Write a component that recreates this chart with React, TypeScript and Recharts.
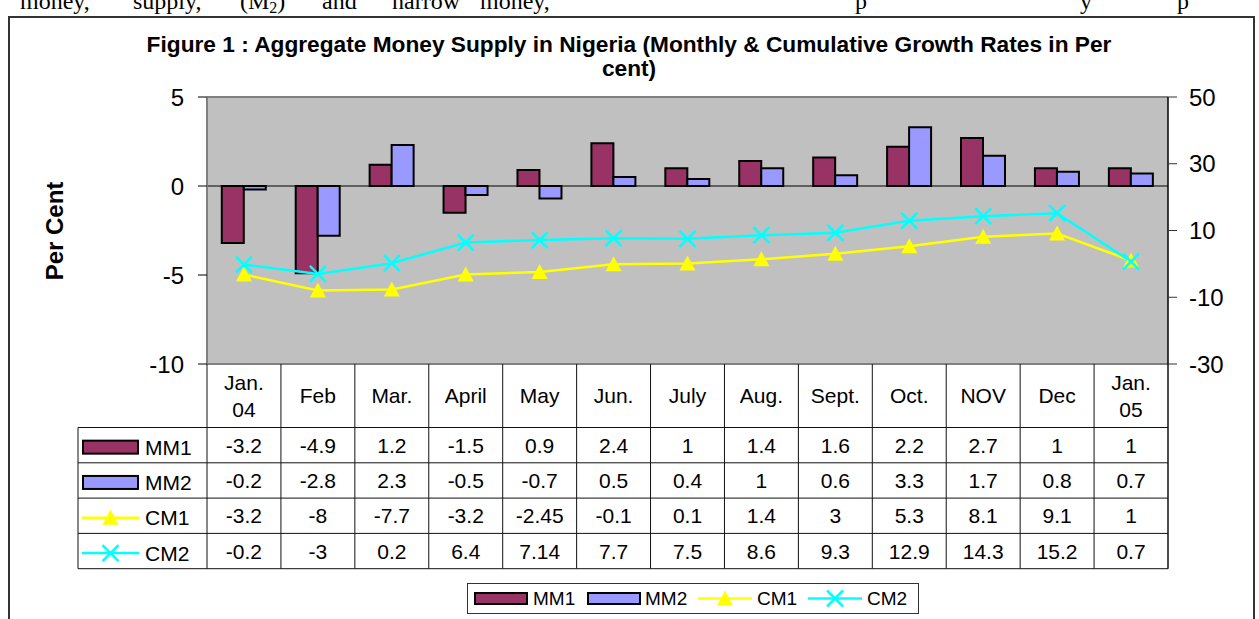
import React from 'react';
import { ComposedChart, Bar, Line, XAxis, YAxis, CartesianGrid, ReferenceLine } from 'recharts';

const categories = ['Jan. 04', 'Feb', 'Mar.', 'April', 'May', 'Jun.', 'July', 'Aug.', 'Sept.', 'Oct.', 'NOV', 'Dec', 'Jan. 05'];
const mm1 = [-3.2, -4.9, 1.2, -1.5, 0.9, 2.4, 1, 1.4, 1.6, 2.2, 2.7, 1, 1];
const mm2 = [-0.2, -2.8, 2.3, -0.5, -0.7, 0.5, 0.4, 1, 0.6, 3.3, 1.7, 0.8, 0.7];
const cm1 = [-3.2, -8, -7.7, -3.2, -2.45, -0.1, 0.1, 1.4, 3, 5.3, 8.1, 9.1, 1];
const cm2 = [-0.2, -3, 0.2, 6.4, 7.14, 7.7, 7.5, 8.6, 9.3, 12.9, 14.3, 15.2, 0.7];
const leftTicks = [-10, -5, 0, 5];
const rightTicks = [-30, -10, 10, 30, 50];
const seriesNames = ['MM1', 'MM2', 'CM1', 'CM2'];
const seriesValues = [mm1, mm2, cm1, cm2];
const titleLines = ['Figure 1 : Aggregate Money Supply in Nigeria (Monthly & Cumulative Growth Rates in Per', 'cent)'];
const yAxisLabel = 'Per Cent';

const COLORS = { MM1: '#993366', MM2: '#9999FF', CM1: '#FFFF00', CM2: '#00FFFF' };
const FONT = '"Liberation Sans", Arial, sans-serif';
const SERIF = '"Liberation Serif", "Times New Roman", serif';

const W = 1259;
const H = 619;
const PLOT_L = 207;
const PLOT_R = 1168;
const PLOT_T = 97;
const PLOT_B = 364;
const HEADER_H = 63.5;
const ROW_H = 35.3;
const TABLE_BOTTOM = PLOT_B + HEADER_H + ROW_H * 4;
const LINE_COLOR = '#111';

const data = categories.map((c, i) => ({ month: c, mm1: mm1[i], mm2: mm2[i], cm1: cm1[i], cm2: cm2[i] }));

const TriangleDot = (props: any) => {
  const { cx, cy } = props;
  if (cx == null || cy == null) return null;
  return <polygon points={`${cx},${cy - 8} ${cx - 8},${cy + 7} ${cx + 8},${cy + 7}`} fill={COLORS.CM1} stroke="none" />;
};

const CrossDot = (props: any) => {
  const { cx, cy } = props;
  if (cx == null || cy == null) return null;
  return (
    <g stroke={COLORS.CM2} strokeWidth={2.5}>
      <line x1={cx - 8} y1={cy - 8} x2={cx + 8} y2={cy + 8} />
      <line x1={cx - 8} y1={cy + 8} x2={cx + 8} y2={cy - 8} />
    </g>
  );
};

const TableTick = (props: any) => {
  const { x, y, index, payload } = props;
  const colW = (PLOT_R - PLOT_L) / categories.length;
  const left = x - colW / 2;
  const right = x + colW / 2;
  const top = y;
  const label: string = String(payload.value);
  const parts = label.split(' ');
  const headerCenter = top + HEADER_H / 2;
  const rows = seriesValues.map((vals, r) => {
    const rt = top + HEADER_H + r * ROW_H;
    return (
      <g key={r}>
        <line x1={left} x2={right} y1={rt + ROW_H} y2={rt + ROW_H} stroke={LINE_COLOR} strokeWidth={1} />
        <text x={x} y={rt + ROW_H / 2 + 7.5} textAnchor="middle" fontSize={21} fontFamily={FONT} fill="#000">
          {String(vals[index])}
        </text>
      </g>
    );
  });
  return (
    <g>
      <line x1={left} x2={left} y1={top} y2={top + HEADER_H + ROW_H * 4} stroke={LINE_COLOR} strokeWidth={1} />
      {index === categories.length - 1 && (
        <line x1={right} x2={right} y1={top} y2={top + HEADER_H + ROW_H * 4} stroke={LINE_COLOR} strokeWidth={1.5} />
      )}
      <line x1={left} x2={right} y1={top + HEADER_H} y2={top + HEADER_H} stroke={LINE_COLOR} strokeWidth={1} />
      {parts.length === 1 ? (
        <text x={x} y={headerCenter + 7.5} textAnchor="middle" fontSize={21} fontFamily={FONT} fill="#000">{label}</text>
      ) : (
        <g>
          <text x={x} y={headerCenter - 6} textAnchor="middle" fontSize={21} fontFamily={FONT} fill="#000">{parts[0]}</text>
          <text x={x} y={headerCenter + 21} textAnchor="middle" fontSize={21} fontFamily={FONT} fill="#000">{parts[1]}</text>
        </g>
      )}
      {rows}
    </g>
  );
};

const SeriesSymbol = ({ name, x, cy, w, h }: { name: string; x: number; cy: number; w: number; h: number }) => {
  if (name === 'MM1' || name === 'MM2') {
    return <rect x={x + 1} y={cy - h / 2} width={w - 2} height={h} fill={(COLORS as any)[name]} stroke="#000" strokeWidth={2} />;
  }
  const mx = x + w / 2;
  return (
    <g>
      <line x1={x} x2={x + w} y1={cy} y2={cy} stroke={(COLORS as any)[name]} strokeWidth={2.5} />
      {name === 'CM1' ? <TriangleDot cx={mx} cy={cy} /> : <CrossDot cx={mx} cy={cy} />}
    </g>
  );
};

const Overlay = () => {
  const tableTop = PLOT_B + HEADER_H;
  const legendItems = [
    { x: 474, tx: 533 },
    { x: 587, tx: 645 },
    { x: 698, tx: 757 },
    { x: 808, tx: 867 },
  ];
  return (
    <svg width={W} height={H} style={{ position: 'absolute', left: 0, top: 0 }}>
      {/* document text cut off at top */}
      <g fontFamily={SERIF} fontSize={24} fill="#000">
        <text x={20} y={9}>money,</text>
        <text x={133} y={9}>supply,</text>
        <text x={240} y={9}>(M<tspan fontSize={16} dy={4}>2</tspan><tspan dy={-4}>)</tspan></text>
        <text x={322} y={9}>and</text>
        <text x={392} y={9}>narrow</text>
        <text x={480} y={9}>money,</text>
        <text x={855} y={9}>p</text>
        <text x={1080} y={9}>y</text>
        <text x={1177} y={9}>p</text>
      </g>
      {/* chart border */}
      <path d={`M9 ${H} L9 17 L1254 17 L1254 ${H}`} fill="none" stroke="#333" strokeWidth={2} />
      {/* title */}
      <g fontFamily={FONT} fontSize={22.7} fontWeight="bold" fill="#000" textAnchor="middle">
        <text x={629} y={52}>{titleLines[0]}</text>
        <text x={629} y={76}>{titleLines[1]}</text>
      </g>
      <text transform="translate(63,231) rotate(-90)" textAnchor="middle" fontFamily={FONT} fontSize={24} fontWeight="bold" fill="#000">
        {yAxisLabel}
      </text>
      {/* table row labels */}
      <g>
        <line x1={78} x2={78} y1={tableTop} y2={TABLE_BOTTOM} stroke={LINE_COLOR} strokeWidth={1} />
        <line x1={78} x2={PLOT_L} y1={tableTop} y2={tableTop} stroke={LINE_COLOR} strokeWidth={1} />
        {seriesNames.map((n, r) => {
          const rt = tableTop + r * ROW_H;
          const cy = rt + ROW_H / 2 + 2;
          return (
            <g key={n}>
              <line x1={78} x2={PLOT_L} y1={rt + ROW_H} y2={rt + ROW_H} stroke={LINE_COLOR} strokeWidth={1} />
              <SeriesSymbol name={n} x={82} cy={cy} w={57} h={13} />
              <text x={145} y={cy + 7.5} fontFamily={FONT} fontSize={21} fill="#000">{n}</text>
            </g>
          );
        })}
      </g>
      {/* legend */}
      <rect x={467.5} y={583.5} width={451} height={30} fill="#fff" stroke="#333" strokeWidth={1} />
      {seriesNames.map((n, i) => (
        <g key={n}>
          <SeriesSymbol name={n} x={legendItems[i].x} cy={598.5} w={54} h={11} />
          <text x={legendItems[i].tx} y={605} fontFamily={FONT} fontSize={19} fill="#000">{n}</text>
        </g>
      ))}
    </svg>
  );
};

export default function App() {
  return (
    <div style={{ position: 'absolute', left: 0, top: 0, width: W, height: H, overflow: 'hidden', background: '#fff', fontFamily: FONT }}>
      <Overlay />
      <div style={{ position: 'absolute', left: 0, top: 0 }}>
        <ComposedChart
          width={W}
          height={H}
          data={data}
          margin={{ top: PLOT_T, right: W - PLOT_R - 60, bottom: H - PLOT_B - (TABLE_BOTTOM - PLOT_B), left: PLOT_L - 60 }}
          barCategoryGap="20%"
          barGap={0}
        >
          <CartesianGrid horizontal={false} vertical={false} fill="#C0C0C0" stroke="none" />
          <XAxis
            dataKey="month"
            xAxisId={0}
            height={TABLE_BOTTOM - PLOT_B}
            interval={0}
            tickSize={0}
            tickMargin={0}
            tickLine={false}
            axisLine={{ stroke: '#808080', strokeWidth: 2 }}
            tick={<TableTick />}
          />
          <YAxis
            yAxisId="left"
            width={60}
            domain={[-10, 5]}
            ticks={leftTicks}
            interval={0}
            tickSize={9}
            tickMargin={14}
            axisLine={{ stroke: '#808080', strokeWidth: 2 }}
            tickLine={{ stroke: '#000' }}
            tick={{ fontSize: 24, fill: '#000', fontFamily: FONT }}
            allowDataOverflow
          />
          <YAxis
            yAxisId="right"
            orientation="right"
            width={60}
            domain={[-30, 50]}
            ticks={rightTicks}
            interval={0}
            tickSize={9}
            tickMargin={12}
            axisLine={{ stroke: '#000', strokeWidth: 1.5 }}
            tickLine={{ stroke: '#333' }}
            tick={{ fontSize: 24, fill: '#000', fontFamily: FONT }}
            allowDataOverflow
          />
          <ReferenceLine yAxisId="left" y={5} stroke="#808080" strokeWidth={2} />
          <ReferenceLine yAxisId="left" y={0} stroke="#000" strokeWidth={1} />
          <Bar yAxisId="left" dataKey="mm1" name="MM1" fill={COLORS.MM1} stroke="#000" strokeWidth={2} isAnimationActive={false} />
          <Bar yAxisId="left" dataKey="mm2" name="MM2" fill={COLORS.MM2} stroke="#000" strokeWidth={2} isAnimationActive={false} />
          <Line yAxisId="right" dataKey="cm1" name="CM1" stroke={COLORS.CM1} strokeWidth={2.5} dot={<TriangleDot />} activeDot={false} isAnimationActive={false} />
          <Line yAxisId="right" dataKey="cm2" name="CM2" stroke={COLORS.CM2} strokeWidth={2.5} dot={<CrossDot />} activeDot={false} isAnimationActive={false} />
        </ComposedChart>
      </div>
    </div>
  );
}
